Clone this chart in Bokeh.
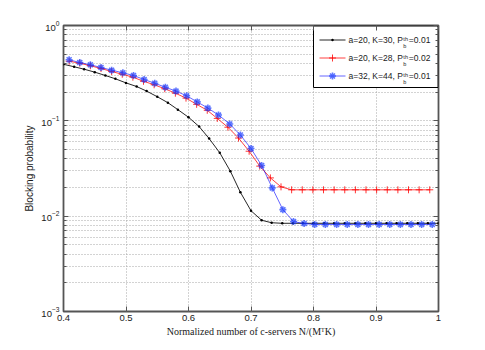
from bokeh.plotting import figure
from bokeh.models import FixedTicker, LogAxis, LinearAxis, Range1d
from bokeh.core.properties import value
from bokeh.embed import file_html
from bokeh.resources import INLINE

# ---------------- data ----------------
black_x = [0.400, 0.417, 0.433, 0.450, 0.467, 0.483, 0.500, 0.517, 0.533, 0.550,
           0.567, 0.583, 0.600, 0.617, 0.633, 0.650, 0.667, 0.683, 0.700, 0.717,
           0.733, 0.750, 0.767, 0.783, 0.800, 0.817, 0.833, 0.850, 0.867, 0.883,
           0.900, 0.917, 0.933, 0.950, 0.967, 0.983, 1.000]
black_y = [0.392, 0.369, 0.348, 0.324, 0.299, 0.276, 0.250, 0.229, 0.205, 0.179,
           0.155, 0.131, 0.109, 0.0871, 0.0652, 0.0462, 0.0296, 0.0178, 0.0114, 0.00906,
           0.00853, 0.00842, 0.00842, 0.00842, 0.00842, 0.00842, 0.00842, 0.00842,
           0.00842, 0.00842, 0.00842, 0.00842, 0.00842, 0.00842, 0.00842, 0.00842,
           0.00842]

red_x = [0.409, 0.426, 0.443, 0.460, 0.477, 0.494, 0.511, 0.528, 0.545, 0.562,
         0.579, 0.596, 0.613, 0.630, 0.646, 0.663, 0.680, 0.697, 0.714, 0.731,
         0.748, 0.765, 0.782, 0.799, 0.816, 0.833, 0.850, 0.867, 0.884, 0.901,
         0.918, 0.935, 0.952, 0.969, 0.986]
red_y = [0.422, 0.402, 0.378, 0.354, 0.329, 0.308, 0.287, 0.260, 0.239, 0.217,
         0.195, 0.173, 0.149, 0.129, 0.106, 0.0857, 0.0660, 0.0480, 0.0335, 0.0252,
         0.0203, 0.0189, 0.0189, 0.0189, 0.0189, 0.0189, 0.0189, 0.0189, 0.0189,
         0.0189, 0.0189, 0.0189, 0.0189, 0.0189, 0.0189]

blue_x = [0.409, 0.426, 0.443, 0.460, 0.477, 0.495, 0.512, 0.529, 0.546, 0.563,
          0.580, 0.597, 0.614, 0.631, 0.648, 0.666, 0.683, 0.700, 0.717, 0.734,
          0.751, 0.768, 0.785, 0.802, 0.819, 0.837, 0.854, 0.871, 0.888, 0.905,
          0.922, 0.939, 0.956, 0.973, 0.990]
blue_y = [0.437, 0.409, 0.387, 0.363, 0.340, 0.319, 0.299, 0.271, 0.248, 0.225,
          0.205, 0.183, 0.158, 0.136, 0.115, 0.0926, 0.0710, 0.0512, 0.0340, 0.0198,
          0.0117, 0.00878, 0.00836, 0.00818, 0.00818, 0.00818, 0.00818, 0.00818,
          0.00818, 0.00818, 0.00818, 0.00818, 0.00818, 0.00818, 0.00818]

x_ticks = [0.4, 0.5, 0.6, 0.7, 0.8, 0.9, 1.0]
x_tick_labels = ["0.4", "0.5", "0.6", "0.7", "0.8", "0.9", "1"]
y_ticks = [0.001, 0.01, 0.1, 1]
y_tick_labels = ["10\u207b\u00b3", "10\u207b\u00b2", "10\u207b\u00b9", "10\u2070"]
y_minor = [m * 10.0 ** e for e in (-3, -2, -1) for m in range(2, 10)]

series_names = ["a=20, K=30, P", "a=20, K=28, P", "a=32, K=44, P"]
pth_values = ["=0.01", "=0.02", "=0.01"]

x_label = "Normalized number of c-servers N/(M\u1d40K)"
y_label = "Blocking probability"

# ---------------- figure ----------------
SANS = "Liberation Sans"
X0, X1, Y0, Y1 = 0.4, 1.0, 1e-3, 1.0
FRAME_W, FRAME_H = 375, 286
EDGE = "#555555"
TXT = "#1a1a1a"

p = figure(width=478, height=344, y_axis_type="log",
           x_range=Range1d(X0, X1), y_range=Range1d(Y0, Y1),
           output_backend="svg", toolbar_location=None,
           min_border_left=63, min_border_right=40,
           min_border_top=25, min_border_bottom=33)
p.background_fill_color = "white"
p.border_fill_color = "white"
p.outline_line_color = EDGE
p.outline_line_width = 1.8

xt = FixedTicker(ticks=x_ticks)
yt = FixedTicker(ticks=y_ticks, minor_ticks=y_minor)

p.xaxis.ticker = xt
p.xaxis.major_label_overrides = {"1": x_tick_labels[-1]}
p.yaxis.ticker = yt
p.yaxis.major_label_overrides = {"0.001": y_tick_labels[0], "0.01": y_tick_labels[1],
                                 "0.1": y_tick_labels[2], "1": y_tick_labels[3]}
p.xgrid.ticker = xt
p.ygrid.ticker = yt

for ax in (p.xaxis[0], p.yaxis[0]):
    ax.major_tick_in = 5
    ax.major_tick_out = 0
    ax.minor_tick_in = 3
    ax.minor_tick_out = 0
    ax.axis_line_color = None
    ax.major_tick_line_color = EDGE
    ax.minor_tick_line_color = EDGE
    ax.major_label_text_font = SANS
    ax.major_label_text_font_size = "9.5px"
    ax.major_label_text_color = TXT
p.xaxis.minor_tick_line_color = None
p.xaxis.major_label_standoff = 3
p.yaxis.major_label_standoff = 4

p.xaxis.axis_label = x_label
p.xaxis.axis_label_text_font = "Liberation Serif"
p.xaxis.axis_label_text_font_size = "10px"
p.xaxis.axis_label_text_font_style = "normal"
p.xaxis.axis_label_text_color = TXT
p.xaxis.axis_label_standoff = 2

p.yaxis.axis_label = y_label
p.yaxis.axis_label_text_font = SANS
p.yaxis.axis_label_text_font_size = "10px"
p.yaxis.axis_label_text_font_style = "normal"
p.yaxis.axis_label_text_color = TXT
p.yaxis.axis_label_standoff = 3

# box-style ticks on top and right
top_ax = LinearAxis(ticker=xt, major_label_text_color=None, major_label_text_font_size="6px",
                    major_tick_in=5, major_tick_out=0, minor_tick_line_color=None,
                    axis_line_color=None, major_tick_line_color=EDGE)
right_ax = LogAxis(ticker=yt, major_label_text_color=None, major_label_text_font_size="6px",
                   major_tick_in=5, major_tick_out=0, minor_tick_in=3, minor_tick_out=0,
                   axis_line_color=None, major_tick_line_color=EDGE,
                   minor_tick_line_color=EDGE)
p.add_layout(top_ax, "above")
p.add_layout(right_ax, "right")

# dotted grid
p.xgrid.grid_line_color = "#a6a6a6"
p.xgrid.grid_line_dash = "1 2"
p.ygrid.grid_line_color = "#a6a6a6"
p.ygrid.grid_line_dash = "1 2"
p.ygrid.minor_grid_line_color = "#a6a6a6"
p.ygrid.minor_grid_line_dash = "1 2"

# ---------------- series styles ----------------
styles = [
    dict(line=dict(line_color="black", line_width=1, line_alpha=0.85),
         mark=dict(marker="dot", size=10, line_color="black", fill_color="black")),
    dict(line=dict(line_color="#ff0000", line_width=1, line_alpha=0.75),
         mark=dict(marker="cross", size=7, line_color="#ff0000", line_width=1, line_alpha=0.8)),
    dict(line=dict(line_color="#0000ff", line_width=1, line_alpha=0.6),
         mark=dict(marker="asterisk", size=7, line_color="#1a3cff", line_width=1.6,
                   line_alpha=0.7)),
]
series = [(black_x, black_y), (red_x, red_y), (blue_x, blue_y)]
for (sx, sy), st in zip(series, styles):
    p.line(sx, sy, **st["line"])
    p.scatter(sx, sy, **st["mark"])


# ---------------- legend (drawn by hand to allow P_b^th) ----------------
def fx(px):
    return X0 + (X1 - X0) * px / FRAME_W


def fy(py):
    return 10 ** (-3 + 3 * py / FRAME_H)


LEG_L, LEG_R, LEG_T, LEG_B = FRAME_W - 125, FRAME_W - 0.5, FRAME_H - 0.5, FRAME_H - 62
p.quad(left=[fx(LEG_L)], right=[fx(LEG_R)], top=[fy(LEG_T)], bottom=[fy(LEG_B)],
       fill_color="white", line_color="black", line_width=1)

LEG_FONT = 8.5
TXT_X = LEG_L + 6 + 26 + 3
P_END = TXT_X + 6.394 * LEG_FONT
rows = [FRAME_H - 14.5 - 18 * i for i in range(3)]
for c, st, name, val in zip(rows, styles, series_names, pth_values):
    p.line([fx(LEG_L + 6), fx(LEG_L + 32)], [fy(c), fy(c)], **st["line"])
    p.scatter([fx(LEG_L + 19)], [fy(c)], **st["mark"])
    p.text([fx(TXT_X)], [fy(c)], text=[name], text_font=value(SANS),
           text_font_size=value(f"{LEG_FONT}px"), text_baseline="middle",
           text_align="left", text_color=TXT)
    p.text([fx(P_END + 0.5)], [fy(c + 1.5)], text=["th"], text_font=value(SANS),
           text_font_size=value("5.5px"), text_baseline="alphabetic", text_align="left",
           text_color=TXT)
    p.text([fx(P_END + 0.5)], [fy(c - 5.5)], text=["b"], text_font=value(SANS),
           text_font_size=value("5.5px"), text_baseline="alphabetic", text_align="left",
           text_color=TXT)
    p.text([fx(P_END + 6)], [fy(c)], text=[val], text_font=value(SANS),
           text_font_size=value(f"{LEG_FONT}px"), text_baseline="middle",
           text_align="left", text_color=TXT)

open("out.html", "w").write(file_html(p, INLINE))
